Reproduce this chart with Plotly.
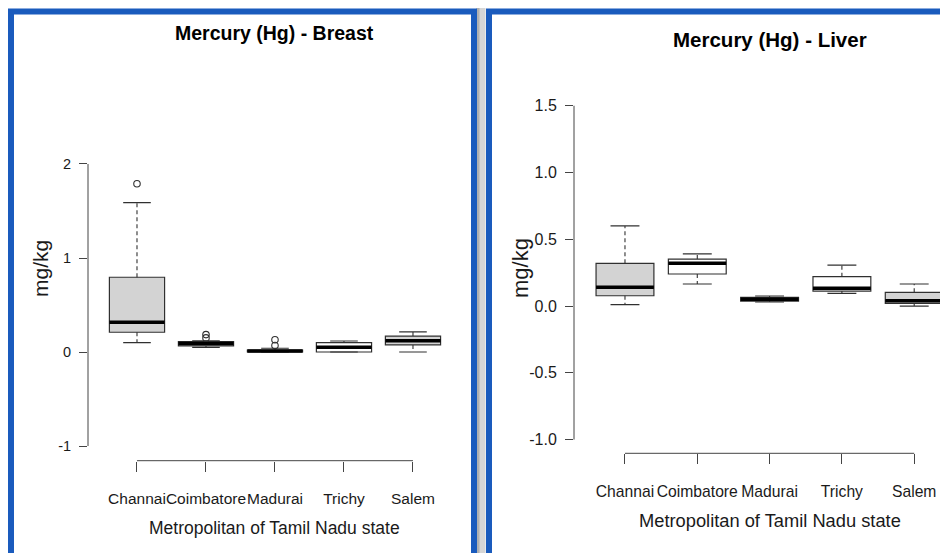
import plotly.graph_objects as go

# ---------------- data ----------------
cities = ["Channai", "Coimbatore", "Madurai", "Trichy", "Salem"]

breast_lower = [0.10, 0.05, 0.00, 0.00, 0.00]
breast_q1 = [0.21, 0.065, 0.00, 0.00, 0.075]
breast_median = [0.316, 0.09, 0.01, 0.05, 0.12]
breast_q3 = [0.795, 0.11, 0.02, 0.10, 0.17]
breast_upper = [1.59, 0.12, 0.04, 0.117, 0.215]
breast_out_city = ["Channai", "Coimbatore", "Coimbatore", "Madurai", "Madurai"]
breast_out_val = [1.79, 0.15, 0.185, 0.07, 0.13]

liver_lower = [0.01, 0.165, 0.03, 0.095, 0.00]
liver_q1 = [0.077, 0.24, 0.037, 0.112, 0.02]
liver_median = [0.14, 0.32, 0.05, 0.133, 0.04]
liver_q3 = [0.32, 0.352, 0.065, 0.22, 0.103]
liver_upper = [0.60, 0.39, 0.075, 0.307, 0.165]
liver_out_city = []
liver_out_val = []

breast_yticks = [-1, 0, 1, 2]
breast_yticktext = ["-1", "0", "1", "2"]
liver_yticks = [-1.0, -0.5, 0.0, 0.5, 1.0, 1.5]
liver_yticktext = ["-1.0", "-0.5", "0.0", "0.5", "1.0", "1.5"]

titles = ["Mercury (Hg) - Breast", "Mercury (Hg) - Liver"]
xtitle = "Metropolitan of Tamil Nadu state"
ytitle = "mg/kg"

# ---------------- styles ----------------
breast_fill = ["lightgray", "lightgray", "lightgray", "white", "lightgray"]
liver_fill = ["lightgray", "white", "lightgray", "white", "lightgray"]

W, H = 948, 553
OFF = 8  # page body margin offset (screen px)
FONT = "Liberation Sans, Arial, sans-serif"
INK = "#1a1a1a"
BLUE = "#1a5bbd"
BOXW = 0.8
STAPLE = 0.2


def px(x):
    return (x - OFF) / W


def py(y):
    return 1 - (y - OFF) / H


fig = go.Figure()

panels = [
    dict(ax="", lower=breast_lower, q1=breast_q1, med=breast_median, q3=breast_q3,
         upper=breast_upper, oc=breast_out_city, ov=breast_out_val, fill=breast_fill,
         yt=breast_yticks, ytt=breast_yticktext,
         xdom=[px(88), px(461)], ydom=[py(460.7), py(152.7)],
         xr=[-0.71, 4.696], yr=[-1.156, 2.12], tickfont=14.5, catfont=15.5,
         title=titles[0], tx=274.5, ty=33, tfs=19.5,
         xtx=274.5, xty=528, xtfs=17.5, ytx=40, yty=268, ytfs=21),
    dict(ax="2", lower=liver_lower, q1=liver_q1, med=liver_median, q3=liver_q3,
         upper=liver_upper, oc=liver_out_city, ov=liver_out_val, fill=liver_fill,
         yt=liver_yticks, ytt=liver_yticktext,
         xdom=[px(574), 1.0], ydom=[py(453.3), py(92.4)],
         xr=[-0.705, 4.578], yr=[-1.103, 1.6], tickfont=16, catfont=15.7,
         title=titles[1], tx=770, ty=40, tfs=20.5,
         xtx=770, xty=520, xtfs=18.3, ytx=520, yty=268, ytfs=22),
]

shapes = []
annotations = []

for p in panels:
    xa = "x" + p["ax"]
    ya = "y" + p["ax"]
    pos = list(range(len(cities)))
    # boxes
    for i, c in enumerate(cities):
        fig.add_trace(go.Box(
            x=[pos[i]], q1=[p["q1"][i]], median=[p["med"][i]], q3=[p["q3"][i]],
            lowerfence=[p["q1"][i]], upperfence=[p["q3"][i]],
            width=BOXW, whiskerwidth=0, fillcolor=p["fill"][i],
            line=dict(color="#303030", width=1.2), marker=dict(opacity=0),
            boxpoints=False, showlegend=False, hoverinfo="skip",
            xaxis=xa, yaxis=ya,
        ))
    # whiskers (dashed)
    wx, wy = [], []
    for i in pos:
        wx += [i, i, None, i, i, None]
        wy += [p["q3"][i], p["upper"][i], None, p["q1"][i], p["lower"][i], None]
    fig.add_trace(go.Scatter(x=wx, y=wy, mode="lines",
                             line=dict(color="#303030", width=1.1, dash="4px,3px"),
                             showlegend=False, hoverinfo="skip", xaxis=xa, yaxis=ya))
    # staples
    sx, sy = [], []
    for i in pos:
        sx += [i - STAPLE, i + STAPLE, None, i - STAPLE, i + STAPLE, None]
        sy += [p["upper"][i], p["upper"][i], None, p["lower"][i], p["lower"][i], None]
    fig.add_trace(go.Scatter(x=sx, y=sy, mode="lines",
                             line=dict(color="#303030", width=1.2),
                             showlegend=False, hoverinfo="skip", xaxis=xa, yaxis=ya))
    # medians (thick)
    mx, my = [], []
    for i in pos:
        mx += [i - BOXW / 2, i + BOXW / 2, None]
        my += [p["med"][i], p["med"][i], None]
    fig.add_trace(go.Scatter(x=mx, y=my, mode="lines",
                             line=dict(color="black", width=3.5),
                             showlegend=False, hoverinfo="skip", xaxis=xa, yaxis=ya))
    # outliers
    if p["oc"]:
        fig.add_trace(go.Scatter(
            x=[cities.index(c) for c in p["oc"]], y=p["ov"], mode="markers",
            marker=dict(symbol="circle-open", size=6.5, color="#303030",
                        line=dict(width=1.1)),
            showlegend=False, hoverinfo="skip", xaxis=xa, yaxis=ya))

    xkey = "xaxis" + p["ax"]
    ykey = "yaxis" + p["ax"]
    fig.layout[xkey] = dict(
        domain=p["xdom"], range=p["xr"], anchor=ya, tickmode="array",
        tickvals=pos, ticktext=cities, ticks="outside", ticklen=10, tickangle=0,
        tickcolor="#444", tickwidth=1, showline=False, showgrid=False,
        zeroline=False, tickfont=dict(family=FONT, size=p["catfont"], color=INK),
        ticklabelstandoff=14, fixedrange=True,
    )
    fig.layout[ykey] = dict(
        domain=p["ydom"], range=p["yr"], anchor=xa, tickmode="array",
        tickvals=p["yt"], ticktext=p["ytt"], ticks="outside", ticklen=8,
        tickcolor="#444", tickwidth=1, showline=False, showgrid=False,
        zeroline=False, tickfont=dict(family=FONT, size=p["tickfont"], color=INK),
        ticklabelstandoff=5, fixedrange=True,
    )
    # R-style axis lines spanning only the tick range
    shapes.append(dict(type="line", xref=xa + " domain", yref=ya,
                       x0=0, x1=0, y0=min(p["yt"]), y1=max(p["yt"]),
                       line=dict(color="#444", width=1)))
    shapes.append(dict(type="line", xref=xa, yref=ya + " domain",
                       x0=pos[0], x1=pos[-1], y0=0, y1=0,
                       line=dict(color="#444", width=1)))
    annotations.append(dict(text="<b>" + p["title"] + "</b>", xref="paper", yref="paper",
                            x=px(p["tx"]), y=py(p["ty"]), showarrow=False,
                            xanchor="center", yanchor="middle",
                            font=dict(family=FONT, size=p["tfs"], color="black")))
    annotations.append(dict(text=xtitle, xref="paper", yref="paper",
                            x=px(p["xtx"]), y=py(p["xty"]), showarrow=False,
                            xanchor="center", yanchor="middle",
                            font=dict(family=FONT, size=p["xtfs"], color=INK)))
    annotations.append(dict(text=ytitle, xref="paper", yref="paper", textangle=-90,
                            x=px(p["ytx"]), y=py(p["yty"]), showarrow=False,
                            xanchor="center", yanchor="middle",
                            font=dict(family=FONT, size=p["ytfs"], color=INK)))

# blue frames and shadow
shapes.append(dict(type="rect", xref="paper", yref="paper", layer="above",
                   x0=px(476.5), x1=px(485.5), y0=py(620), y1=py(8),
                   fillcolor="#d6d6d6", line=dict(width=0)))
shapes.append(dict(type="rect", xref="paper", yref="paper", layer="above",
                   x0=px(476.5), x1=px(479.5), y0=py(620), y1=py(8),
                   fillcolor="#b0b0b0", line=dict(width=0)))
shapes.append(dict(type="rect", xref="paper", yref="paper", layer="above",
                   x0=px(11), x1=px(474), y0=py(620), y1=py(11.5),
                   line=dict(color=BLUE, width=6), fillcolor="rgba(0,0,0,0)"))
shapes.append(dict(type="rect", xref="paper", yref="paper", layer="above",
                   x0=px(489), x1=px(1010), y0=py(620), y1=py(11.5),
                   line=dict(color=BLUE, width=6), fillcolor="rgba(0,0,0,0)"))

fig.update_layout(
    width=W, height=H, autosize=False,
    margin=dict(l=0, r=0, t=0, b=0),
    paper_bgcolor="white", plot_bgcolor="white",
    boxmode="overlay", showlegend=False,
    shapes=shapes, annotations=annotations,
)

fig.write_html("out.html")
